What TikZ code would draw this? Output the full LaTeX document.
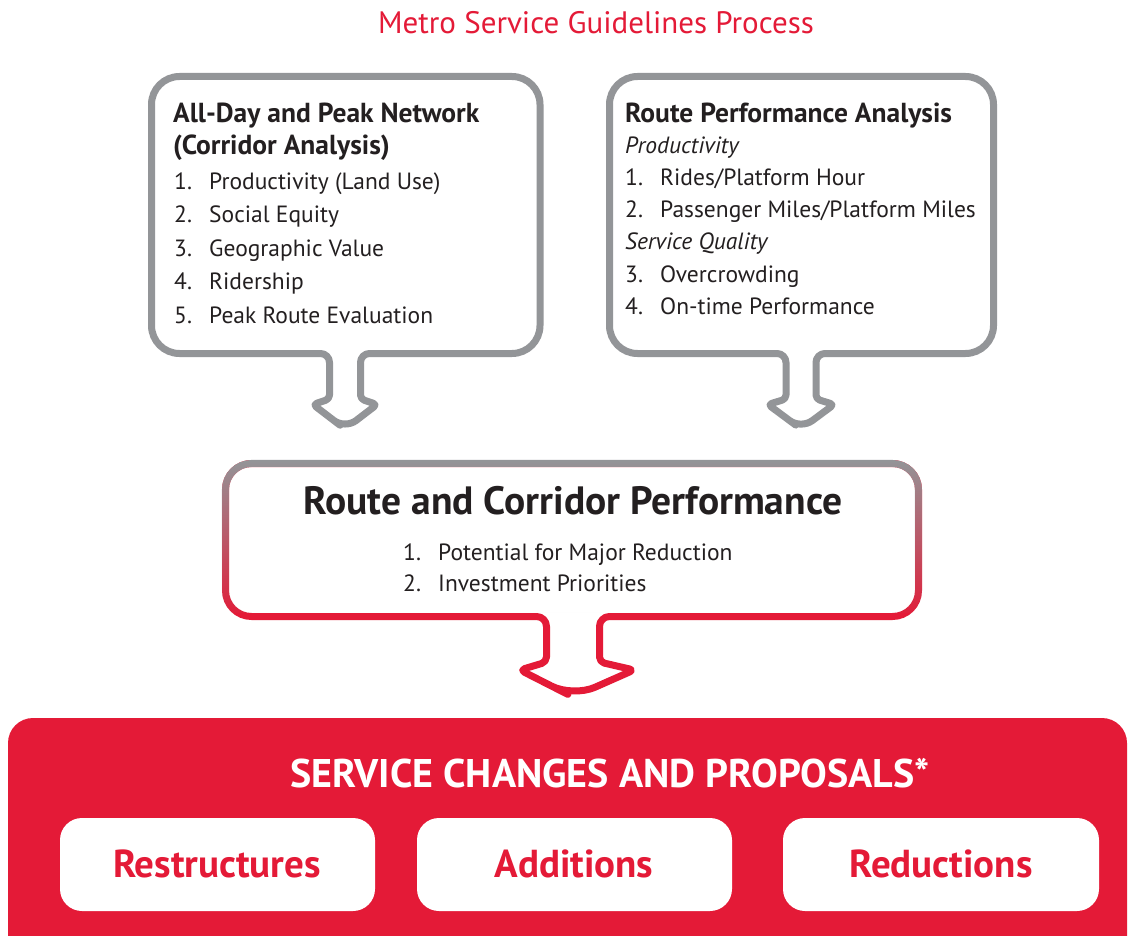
\documentclass[tikz,border=0pt]{standalone}
\usepackage{fontspec}
\setmainfont{PT Sans}
\usetikzlibrary{fadings}
\definecolor{metrored}{RGB}{228,26,55}
\definecolor{metrogray}{RGB}{147,149,152}
\definecolor{inkdark}{RGB}{35,31,32}
\tikzfading[name=grayfade, top color=transparent!0, bottom color=transparent!100]
\tikzset{
  outline/.style={line width=7pt, line join=round},
  txt/.style={anchor=base west, inner sep=0pt, text=inkdark},
  ctxt/.style={anchor=base, inner sep=0pt},
  itemfont/.style={font=\fontsize{23.5}{28}\selectfont},
  subfont/.style={font=\fontsize{23.5}{28}\selectfont\itshape},
  headfont/.style={font=\fontsize{27.5}{32}\selectfont\bfseries},
  choicefont/.style={font=\fontsize{39}{44}\selectfont\bfseries},
  choice/.style={fill=white, rounded corners=22pt},
}
\newcommand{\num}[1]{\makebox[35pt][l]{#1}}
\begin{document}
\begin{tikzpicture}[x=1pt, y=-1pt]
\clip (0,0) rectangle (1128,936);
\fill[white] (0,0) rectangle (1128,936);

% title
\node[ctxt, text=metrored, font=\fontsize{31}{36}\selectfont] (title) at (596,34) {Metro Service Guidelines Process};

% left box with its down arrow
\draw[outline, metrogray, rounded corners=28pt]
  (240,353.5) -- (151.5,353.5) -- (151.5,76.5) -- (540,76.5) -- (540,353.5) -- (420,353.5)
  [rounded corners=9pt] -- (360.5,353.5) -- (360.5,385)
  [rounded corners=4pt] -- (360.5,399) -- (377,404.5) -- (361,416.75)
  [rounded corners=14pt] -- (345,429) -- (329,416.75)
  [rounded corners=4pt] -- (313,404.5) -- (329.5,399) -- (329.5,385)
  [rounded corners=9pt] -- (329.5,353.5) -- cycle;

% right box with its down arrow
\draw[outline, metrogray, rounded corners=28pt]
  (700,353.5) -- (609.5,353.5) -- (609.5,76.5) -- (993.5,76.5) -- (993.5,353.5) -- (880,353.5)
  [rounded corners=9pt] -- (816,353.5) -- (816,385)
  [rounded corners=4pt] -- (816,399) -- (834,404.5) -- (817.5,416.75)
  [rounded corners=14pt] -- (801,429) -- (784.5,416.75)
  [rounded corners=4pt] -- (768,404.5) -- (786,399) -- (786,385)
  [rounded corners=9pt] -- (786,353.5) -- cycle;

% middle box: red outline, gray fading in from the top
\draw[outline, metrored, rounded corners=26pt]
  (400,616.5) -- (225.5,616.5) -- (225.5,463.5) -- (918.5,463.5) -- (918.5,616.5) -- (700,616.5)
  [rounded corners=10pt] -- (599.5,616.5) -- (599.5,645)
  [rounded corners=5pt] -- (599.5,662) -- (634,670) -- (603.5,683.5)
  [rounded corners=24pt] -- (573,697) -- (546.5,683.5)
  [rounded corners=5pt] -- (520,670) -- (546.5,662) -- (546.5,645)
  [rounded corners=10pt] -- (546.5,616.5) -- cycle;
\begin{scope}
  \clip (200,440) rectangle (950,612);
  \draw[outline, metrogray, rounded corners=26pt, path fading=grayfade, fit fading=true]
    (225.5,463.5) rectangle (918.5,616.5);
\end{scope}

% bottom panel
\fill[metrored, rounded corners=25pt] (8,718) rectangle (1127,980);
\node[ctxt, text=white, font=\fontsize{40}{44}\selectfont\bfseries] (changes) at (610,787) {SERVICE CHANGES AND PROPOSALS*};
\fill[choice] (60,818) rectangle (375,911);
\fill[choice] (417,818) rectangle (732,911);
\fill[choice] (783,818) rectangle (1099,911);
\node[ctxt, text=metrored, choicefont] (restr) at (217,877) {Restructures};
\node[ctxt, text=metrored, choicefont] (addit) at (574,877) {Additions};
\node[ctxt, text=metrored, choicefont] (reduc) at (941,877) {Reductions};

% left box text
\node[txt, headfont] (lh1) at (173,123) {All-Day and Peak Network};
\node[txt, headfont] (lh2) at (173,155) {(Corridor Analysis)};
\node[txt, itemfont] (l1) at (174,189.5) {\num{1.}Productivity (Land Use)};
\node[txt, itemfont] (l2) at (174,223) {\num{2.}Social Equity};
\node[txt, itemfont] (l3) at (174,256.5) {\num{3.}Geographic Value};
\node[txt, itemfont] (l4) at (174,290) {\num{4.}Ridership};
\node[txt, itemfont] (l5) at (174,323.5) {\num{5.}Peak Route Evaluation};

% right box text
\node[txt, headfont] (rh) at (625,123) {Route Performance Analysis};
\node[txt, subfont] (rp) at (625,154) {Productivity};
\node[txt, itemfont] (r1) at (625,186) {\num{1.}Rides/Platform Hour};
\node[txt, itemfont] (r2) at (625,218) {\num{2.}Passenger Miles/Platform Miles};
\node[txt, subfont] (rq) at (625,250) {Service Quality};
\node[txt, itemfont] (r3) at (625,283) {\num{3.}Overcrowding};
\node[txt, itemfont] (r4) at (625,315) {\num{4.}On-time Performance};

% middle box text
\node[ctxt, text=inkdark, font=\fontsize{39.5}{44}\selectfont\bfseries] (mh) at (573,514) {Route and Corridor Performance};
\node[txt, itemfont] (m1) at (403,560) {\num{1.}Potential for Major Reduction};
\node[txt, itemfont] (m2) at (403,591) {\num{2.}Investment Priorities};
\end{tikzpicture}
\end{document}
